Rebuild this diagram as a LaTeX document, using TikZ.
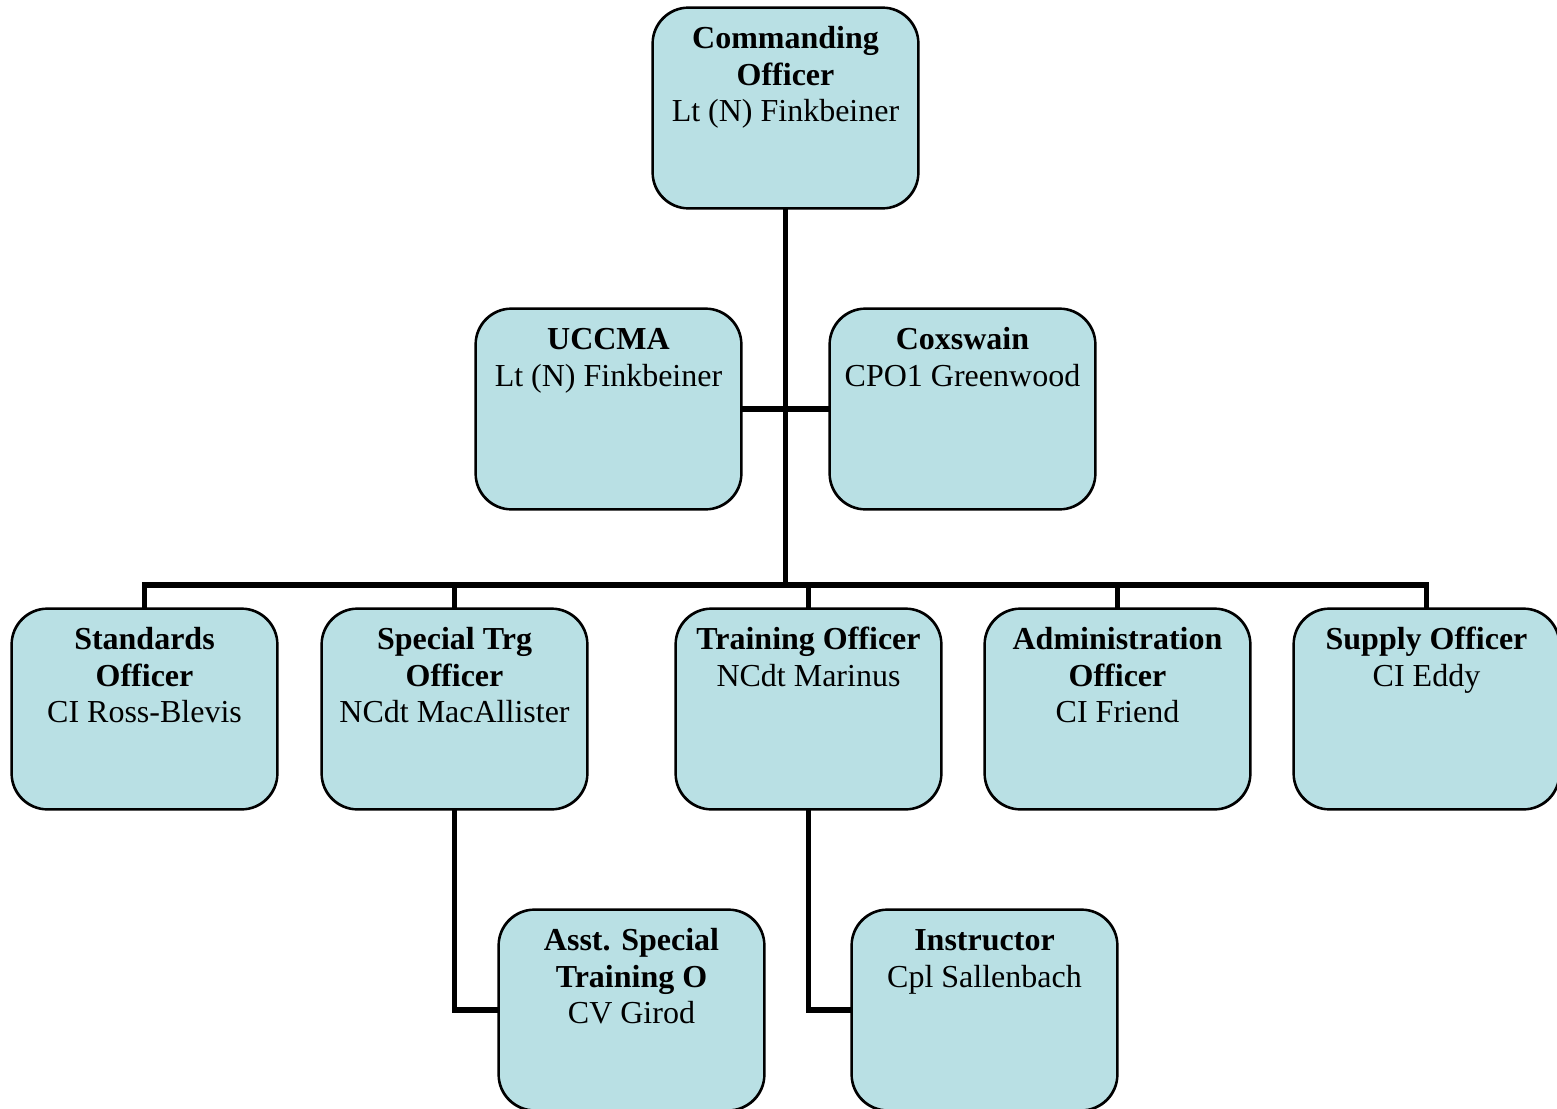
\documentclass[tikz,border=0pt]{standalone}
\usepackage{fontspec}
\setmainfont{Liberation Serif}
\definecolor{boxfill}{RGB}{185,224,228}
\begin{document}
\begin{tikzpicture}[x=1pt,y=-1pt,
  orgbox/.style={draw=black, line width=1.6pt, fill=boxfill, rounded corners=36pt,
    minimum width=265pt, minimum height=200pt, inner sep=0pt},
  orgtxt/.style={anchor=north, align=center, inner sep=0pt,
    font=\fontsize{32}{36.6}\selectfont},
  conn/.style={draw=black, line width=5.2pt}]
\useasboundingbox (0,0) rectangle (1557,1108);
\clip (0,0) rectangle (1557,1108);
% boxes
\node[orgbox] (co) at (785.5,108) {};
\node[orgbox] (uc) at (608.5,409) {};
\node[orgbox] (cx) at (962.5,409) {};
\node[orgbox] (st) at (144.5,709) {};
\node[orgbox] (sp) at (454.5,709) {};
\node[orgbox] (tr) at (808.5,709) {};
\node[orgbox] (ad) at (1117.5,709) {};
\node[orgbox] (su) at (1426.5,709) {};
\node[orgbox] (as) at (631.5,1010) {};
\node[orgbox] (in) at (984.5,1010) {};
\coordinate (bus) at (0,585);
% connectors
\draw[conn] (co.south) -- (co.south |- bus);
\draw[conn] (uc.east) -- (cx.west);
\draw[conn] ([xshift=-2.6pt]st.north |- bus) -- ([xshift=2.6pt]su.north |- bus);
\foreach \n in {st,sp,tr,ad,su} \draw[conn] (\n.north) -- (\n.north |- bus);
\draw[conn] (sp.south) |- (as.west);
\draw[conn] (tr.south) |- (in.west);
% redraw box outlines over connector ends
\foreach \n in {co,uc,cx,st,sp,tr,ad,su,as,in}
  \draw[line width=1.6pt, rounded corners=36pt] (\n.south west) rectangle (\n.north east);
% texts
\newcommand{\fl}{\rule{0pt}{25pt}}
\node[orgtxt] (tco) at ([yshift=-16pt]co.north) {\fl\textbf{Commanding}\\\textbf{Officer}\\Lt (N) Finkbeiner};
\node[orgtxt] (tuc) at ([yshift=-16pt]uc.north) {\fl\textbf{UCCMA}\\Lt (N) Finkbeiner};
\node[orgtxt] (tcx) at ([yshift=-16pt]cx.north) {\fl\textbf{Coxswain}\\CPO1 Greenwood};
\node[orgtxt] (tst) at ([yshift=-16pt]st.north) {\fl\textbf{Standards}\\\textbf{Officer}\\CI Ross-Blevis};
\node[orgtxt] (tsp) at ([yshift=-16pt]sp.north) {\fl\textbf{Special Trg}\\\textbf{Officer}\\NCdt MacAllister};
\node[orgtxt] (ttr) at ([yshift=-16pt]tr.north) {\fl\textbf{Training Officer}\\NCdt Marinus};
\node[orgtxt] (tad) at ([yshift=-16pt]ad.north) {\fl\textbf{Administration}\\\textbf{Officer}\\CI Friend};
\node[orgtxt] (tsu) at ([yshift=-16pt]su.north) {\fl\textbf{Supply Officer}\\CI Eddy};
\node[orgtxt] (tas) at ([yshift=-16pt]as.north) {\fl\textbf{Asst. Special}\\\textbf{Training O}\\CV Girod};
\node[orgtxt] (tin) at ([yshift=-16pt]in.north) {\fl\textbf{Instructor}\\Cpl Sallenbach};
\end{tikzpicture}
\end{document}
